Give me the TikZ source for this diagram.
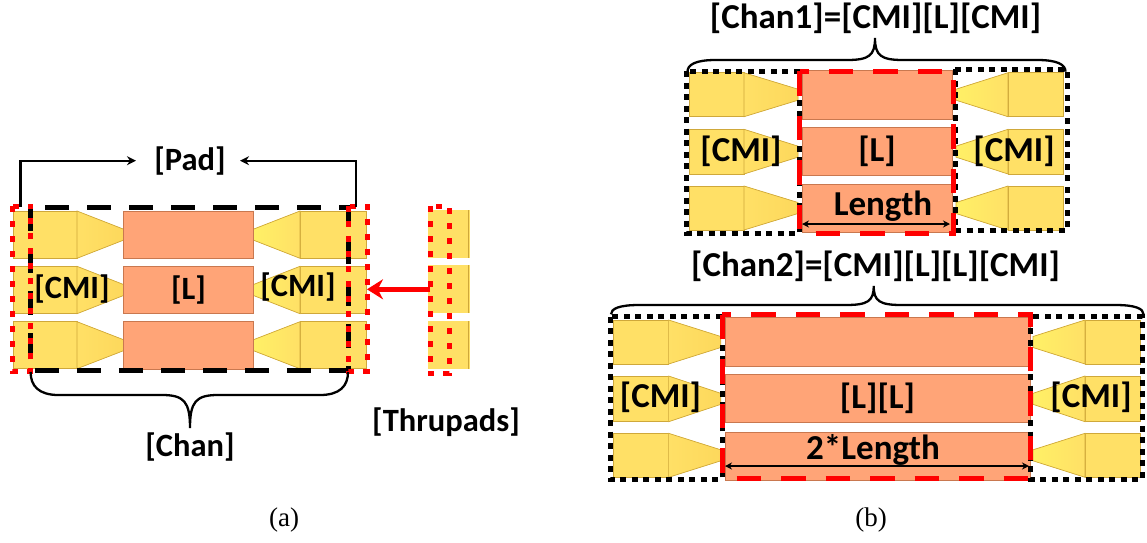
\documentclass[tikz,border=0pt]{standalone}
\usepackage{fontspec}
\setmainfont{Carlito}
\newfontfamily\capfont{Liberation Serif}
\usetikzlibrary{arrows.meta,positioning,calc}
\definecolor{padfill}{HTML}{FFE066}
\definecolor{padtip}{HTML}{FFF066}
\definecolor{paddeep}{HTML}{FDD85C}
\definecolor{paddraw}{HTML}{CFA83A}
\definecolor{lenfill}{HTML}{FFA477}
\definecolor{lendraw}{HTML}{C9784F}
\newcommand{\bracecurve}[6]{%
  \draw[bracket] (#1,#4) .. controls (#1,{#4+(#5-#4)*0.6}) and ({#1+8},#5) .. ({#1+28},#5)
    -- ({#2-28},#5) .. controls ({#2-6},#5) and (#2,{#5+(#6-#5)*0.2}) .. (#2,#6)
    .. controls (#2,{#5+(#6-#5)*0.2}) and ({#2+6},#5) .. ({#2+28},#5)
    -- ({#3-28},#5) .. controls ({#3-8},#5) and (#3,{#4+(#5-#4)*0.6}) .. (#3,#4);}
\begin{document}
\begin{tikzpicture}[
    x=1pt, y=-1pt,
    padbox/.style={draw=paddraw, fill=padfill, line width=0.7pt},
    lenbox/.style={rectangle, draw=lendraw, fill=lenfill, line width=0.7pt, inner sep=0pt},
    label/.style={inner sep=0pt, font=\bfseries\fontsize{32.5}{32.5}\selectfont},
    biglabel/.style={inner sep=0pt, font=\bfseries\fontsize{35}{35}\selectfont},
    caption/.style={inner sep=0pt, font=\capfont\fontsize{27}{27}\selectfont},
    bracket/.style={black, line width=2.3pt},
    blackdash/.style={black, line width=5pt, dash pattern=on 24pt off 18pt},
    blackdot/.style={black, line width=5pt, dash pattern=on 6pt off 5.5pt},
    reddot/.style={red, line width=5pt, dash pattern=on 6pt off 9pt},
    reddash/.style={red, line width=5pt, dash pattern=on 24.5pt off 20pt},
    arrow/.style={-{Stealth[length=9pt,width=9pt]}, black, line width=2.3pt},
    dimarrow/.style={{Stealth[length=7pt,width=7pt]}-{Stealth[length=7pt,width=7pt]}, black, line width=2.3pt},
    movearrow/.style={-{Stealth[length=16pt,width=20pt]}, red, line width=4.5pt}
]
    \useasboundingbox (0,0) rectangle (1147,542);

    % (a) channel with pads
    \foreach \ya/\yb/\i in {211/258.3/1, 266.3/313.7/2, 321.7/368.7/3} {
        \draw[padbox] (13,\ya) rectangle (77,\yb);
        \draw[padbox, left color=padfill, right color=paddeep] (77,\ya) -- (123.5,{(\ya+\yb)/2-5.5}) -- (123.5,{(\ya+\yb)/2+5.5}) -- (77,\yb) -- cycle;
        \draw[padbox] (300,\ya) rectangle (366,\yb);
        \draw[padbox, left color=padtip, right color=padfill] (253.5,{(\ya+\yb)/2-5.5}) -- (300,\ya) -- (300,\yb) -- (253.5,{(\ya+\yb)/2+5.5}) -- cycle;
        \node[lenbox, minimum width=130pt, minimum height=47.3pt] (aL\i) at (188.5,{(\ya+\yb)/2}) {};
    }
    \foreach \ya/\yb/\i in {210/257.7/1, 265.3/313/2, 321/368.7/3} {
        \draw[padbox, draw=none] (428.4,\ya) rectangle (469.5,\yb);
        \draw[paddraw, line width=1pt] (468,\ya) -- (468,\yb);
    }
    \draw[blackdash] (30.6,207) rectangle (348,370.7);
    \draw[reddot] (12.2,206) rectangle (30.6,371);
    \draw[reddot] (348,206) rectangle (367,371);
    \draw[reddot] (430.4,206) rectangle (449,373);

    \node[label] (padlabel) at (190,161) {[Pad]};
    \node[label] (amiL) at (72,289) {[CMI]};
    \node[label] (amiR) at (298,287) {[CMI]};
    \node[label] at (aL2) (aLtext) {[L]};
    \node[label] (chanlabel) at (190,447) {[Chan]};
    \node[label] (thrulabel) at (446,422) {[Thrupads]};
    \node[caption] (capa) at (284,520) {(a)};

    \coordinate (padstartL) at (20.4,207);
    \coordinate (padstartR) at (356,207);
    \coordinate (padendL) at (136,160.7);
    \coordinate (padendR) at (240,160.7);
    \coordinate (thrustart) at (430,289.3);
    \coordinate (thruend) at (367,289.3);
    \draw[arrow] (padstartL) |- (padendL);
    \draw[arrow] (padstartR) |- (padendR);
    \draw[movearrow] (thrustart) -- (thruend);
    \bracecurve{30.6}{190}{348}{372}{395}{428}

    % (b) top, one length
    \foreach \ya/\yb/\ra/\rb/\i in {72.7/116.7/70/119.3/1, 129.3/174/127.3/175.7/2, 186/230/184/232.3/3} {
        \draw[padbox] (689,\ya) rectangle (744,\yb);
        \draw[padbox, left color=padfill, right color=paddeep] (744,\ya) -- (798,{(\ya+\yb)/2-5.5}) -- (798,{(\ya+\yb)/2+5.5}) -- (744,\yb) -- cycle;
        \draw[padbox] (1008,\ya) rectangle (1063,\yb);
        \draw[padbox, left color=padtip, right color=padfill] (956,{(\ya+\yb)/2-5.5}) -- (1008,\ya) -- (1008,\yb) -- (956,{(\ya+\yb)/2+5.5}) -- cycle;
        \node[lenbox, minimum width=150pt, minimum height={\rb pt-\ra pt}] (bL\i) at (877,{(\ra+\rb)/2}) {};
    }
    \draw[blackdot] (686.5,71) rectangle (799.5,233);
    \draw[blackdot] (955,69) rectangle (1067,230);
    \draw[reddash] (799.5,71) rectangle (953.5,233);

    \node[biglabel] (chanonelabel) at (875.5,18) {[Chan1]=[CMI][L][CMI]};
    \node[biglabel] (bmiL) at (741,151) {[CMI]};
    \node[biglabel] (bmiR) at (1014,151) {[CMI]};
    \node[biglabel] at (bL2) (bLtext) {[L]};
    \node[biglabel] (lenlabel) at (883,206) {Length};
    \coordinate (lenL) at (802,224);
    \coordinate (lenR) at (950,224);
    \draw[dimarrow] (lenL) -- (lenR);
    \bracecurve{687.5}{875}{1065.5}{71.7}{60}{38}

    % (b) bottom, two lengths
    \foreach \ya/\yb/\ra/\rb/\i in {320/364/317.7/366/1, 376/421.7/374.3/422.7/2, 433.3/477.3/432/480/3} {
        \draw[padbox] (613,\ya) rectangle (668.6,\yb);
        \draw[padbox, left color=padfill, right color=paddeep] (668.6,\ya) -- (720.8,{(\ya+\yb)/2-5.5}) -- (720.8,{(\ya+\yb)/2+5.5}) -- (668.6,\yb) -- cycle;
        \draw[padbox] (1085,\ya) rectangle (1140.7,\yb);
        \draw[padbox, left color=padtip, right color=padfill] (1033,{(\ya+\yb)/2-5.5}) -- (1085,\ya) -- (1085,\yb) -- (1033,{(\ya+\yb)/2+5.5}) -- cycle;
        \node[lenbox, minimum width=305pt, minimum height={\rb pt-\ra pt}] (cL\i) at (877.5,{(\ra+\rb)/2}) {};
    }
    \draw[blackdot] (610.5,316.7) rectangle (722,479.3);
    \draw[blackdot] (1030.5,316.7) rectangle (1142.5,479.3);
    \draw[reddash] (722,314.7) rectangle (1030.5,478);

    \node[biglabel] (chantwolabel) at (875.5,266) {[Chan2]=[CMI][L][L][CMI]};
    \node[biglabel] (cmiL) at (660.5,397.7) {[CMI]};
    \node[biglabel] (cmiR) at (1091,397.7) {[CMI]};
    \node[biglabel] at (cL2) (cLtext) {[L][L]};
    \node[biglabel] (dbllabel) at (873,450) {2*Length};
    \coordinate (dblL) at (725,466);
    \coordinate (dblR) at (1029,466);
    \draw[dimarrow] (dblL) -- (dblR);
    \bracecurve{611}{873.7}{1143.5}{314.3}{305}{286}
    \node[caption] (capb) at (871,520) {(b)};
\end{tikzpicture}
\end{document}
